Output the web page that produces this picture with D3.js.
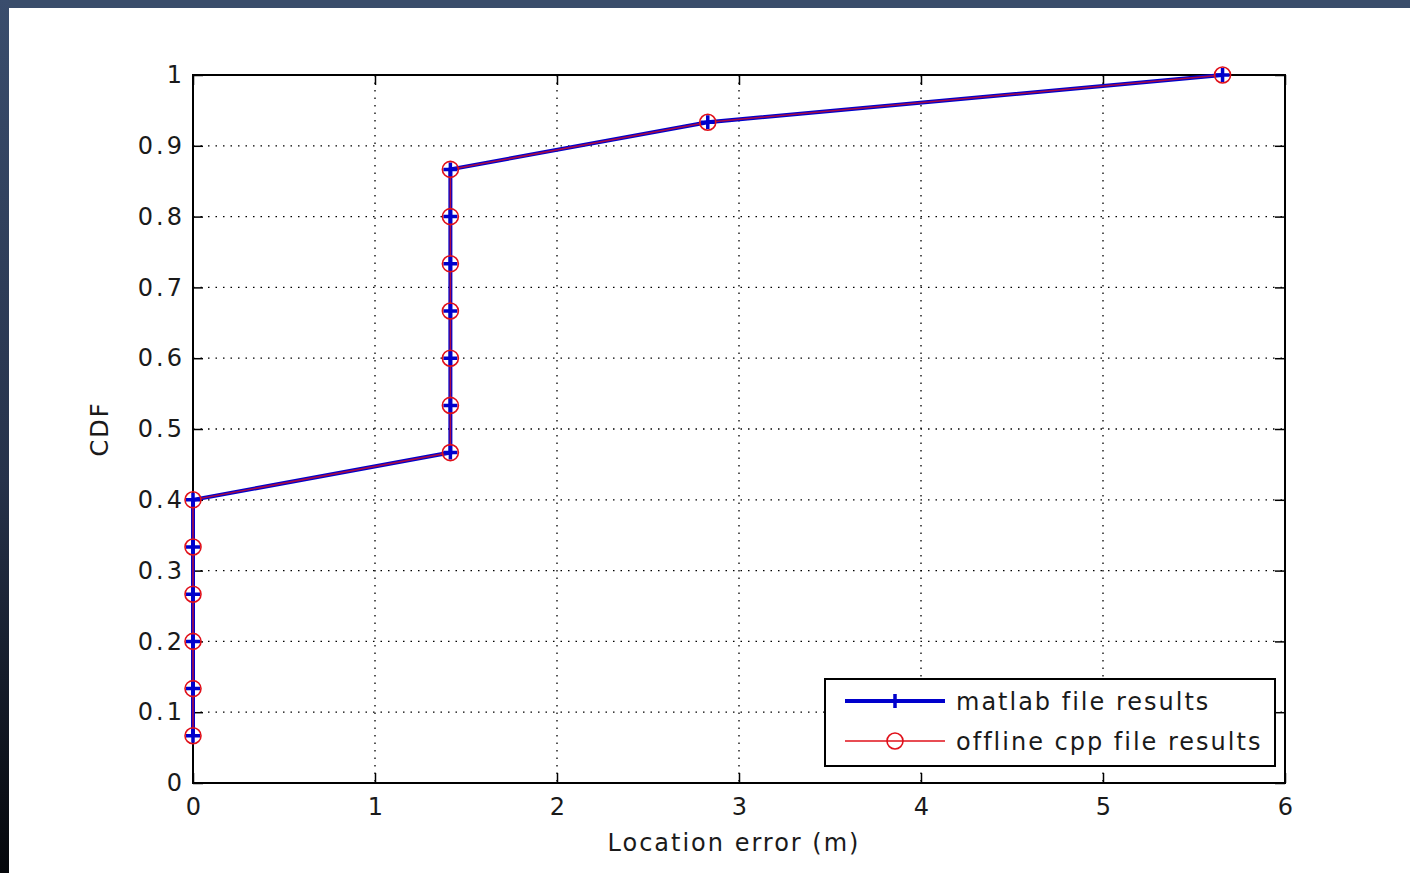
<!DOCTYPE html>
<html><head><meta charset="utf-8">
<script src="https://cdn.jsdelivr.net/npm/d3@7"></script>
<style>
html,body{margin:0;padding:0;background:#fff;}
svg{display:block;}
text{font-family:"DejaVu Sans",Verdana,sans-serif;fill:#1a1a1a;}
</style></head>
<body>
<svg id="c" width="1410" height="873"></svg>
<script>
// Data
const errMatlab = [0,0,0,0,0,0,1.4142,1.4142,1.4142,1.4142,1.4142,1.4142,1.4142,2.8284,5.6569];
const cdfMatlab = [0.0667,0.1333,0.2,0.2667,0.3333,0.4,0.4667,0.5333,0.6,0.6667,0.7333,0.8,0.8667,0.9333,1.0];
const errCpp = [0,0,0,0,0,0,1.4142,1.4142,1.4142,1.4142,1.4142,1.4142,1.4142,2.8284,5.6569];
const cdfCpp = [0.0667,0.1333,0.2,0.2667,0.3333,0.4,0.4667,0.5333,0.6,0.6667,0.7333,0.8,0.8667,0.9333,1.0];
const xTicks = [0,1,2,3,4,5,6];
const yTicks = [0,0.1,0.2,0.3,0.4,0.5,0.6,0.7,0.8,0.9,1];
const yTickLabels = ["0","0.1","0.2","0.3","0.4","0.5","0.6","0.7","0.8","0.9","1"];
const seriesNames = ["matlab file results","offline cpp file results"];

const svg = d3.select("#c");
const W=1410,H=873;
const FONT = "DejaVu Sans, Verdana, sans-serif";

// slide-like frame
const defs = svg.append("defs");
const lg = defs.append("linearGradient").attr("id","lg").attr("x1",0).attr("y1",0).attr("x2",0).attr("y2",1);
lg.append("stop").attr("offset","0%").attr("stop-color","#3a4d6d");
lg.append("stop").attr("offset","55%").attr("stop-color","#26324a");
lg.append("stop").attr("offset","100%").attr("stop-color","#05070b");
svg.append("rect").attr("x",0).attr("y",0).attr("width",W).attr("height",H).attr("fill","#fff");
svg.append("rect").attr("x",0).attr("y",0).attr("width",W).attr("height",8).attr("fill","#3a4d6b");
svg.append("rect").attr("x",0).attr("y",0).attr("width",9).attr("height",H).attr("fill","url(#lg)");

const L=193,R=1285,T=75,B=783;
const x = d3.scaleLinear().domain([0,6]).range([L,R]);
const y = d3.scaleLinear().domain([0,1]).range([B,T]);

// grid
const g = svg.append("g");
g.selectAll(".gx").data(xTicks.slice(1,-1)).join("line")
 .attr("x1",d=>x(d)).attr("x2",d=>x(d)).attr("y1",T).attr("y2",B)
 .attr("stroke","#000").attr("stroke-width",1.3).attr("stroke-dasharray","1.5,6");
g.selectAll(".gy").data(yTicks.slice(1,-1)).join("line")
 .attr("y1",d=>y(d)).attr("y2",d=>y(d)).attr("x1",L).attr("x2",R)
 .attr("stroke","#000").attr("stroke-width",1.3).attr("stroke-dasharray","1.5,6");

// axes with inward ticks on all four sides
const tk = 10;
const axB = svg.append("g").attr("transform",`translate(0,${B})`)
 .call(d3.axisBottom(x).tickValues(xTicks).tickSize(-tk).tickPadding(15).tickFormat(d3.format("d")));
const axT = svg.append("g").attr("transform",`translate(0,${T})`)
 .call(d3.axisTop(x).tickValues(xTicks).tickSize(-tk).tickFormat(""));
const axL = svg.append("g").attr("transform",`translate(${L},0)`)
 .call(d3.axisLeft(y).tickValues(yTicks).tickSize(-tk).tickPadding(8).tickFormat((d,i)=>yTickLabels[i]));
const axR = svg.append("g").attr("transform",`translate(${R},0)`)
 .call(d3.axisRight(y).tickValues(yTicks).tickSize(-tk).tickFormat(""));
[axB,axT,axL,axR].forEach(a=>{
  a.select(".domain").remove();
  a.selectAll(".tick line").attr("stroke","#000").attr("stroke-width",1.5);
  a.selectAll("text").attr("font-size",24).attr("fill","#1a1a1a").attr("font-family",FONT).style("letter-spacing","3px");
});
axB.selectAll("text").attr("dx",1.5);
svg.append("rect").attr("x",L).attr("y",T).attr("width",R-L).attr("height",B-T)
 .attr("fill","none").attr("stroke","#000").attr("stroke-width",2);

// axis labels
svg.append("text").attr("x",734).attr("y",851).attr("text-anchor","middle")
 .attr("font-size",24).style("letter-spacing","2px").text("Location error (m)");
svg.append("text").attr("transform",`translate(108,${(T+B)/2}) rotate(-90)`).attr("text-anchor","middle")
 .attr("font-size",24).style("letter-spacing","2px").text("CDF");

// lines
const line = d3.line().x(d=>x(d[0])).y(d=>y(d[1]));
const dM = errMatlab.map((e,i)=>[e,cdfMatlab[i]]);
const dC = errCpp.map((e,i)=>[e,cdfCpp[i]]);
svg.append("path").datum(dM).attr("d",line).attr("fill","none").attr("stroke","#0000cc").attr("stroke-width",4);
svg.append("path").datum(dC).attr("d",line).attr("fill","none").attr("stroke","#e0101a").attr("stroke-width",1.6).attr("opacity",0.75);

// markers
const ms=7;
svg.append("g").selectAll("path").data(dM).join("path")
 .attr("d",d=>`M${x(d[0])-ms},${y(d[1])}H${x(d[0])+ms}M${x(d[0])},${y(d[1])-ms}V${y(d[1])+ms}`)
 .attr("stroke","#0000cc").attr("stroke-width",3.5);
svg.append("g").selectAll("circle").data(dC).join("circle")
 .attr("cx",d=>x(d[0])).attr("cy",d=>y(d[1])).attr("r",8)
 .attr("fill","none").attr("stroke","#e0101a").attr("stroke-width",1.6);

// legend
const lx=825, ly=679, lw=450, lh=87;
svg.append("rect").attr("x",lx).attr("y",ly).attr("width",lw).attr("height",lh)
 .attr("fill","#fff").attr("stroke","#000").attr("stroke-width",2);
const ry=[701,741];
svg.append("line").attr("x1",845).attr("x2",945).attr("y1",ry[0]).attr("y2",ry[0]).attr("stroke","#0000cc").attr("stroke-width",4);
svg.append("path").attr("d",`M${895-ms},${ry[0]}H${895+ms}M895,${ry[0]-ms}V${ry[0]+ms}`).attr("stroke","#0000cc").attr("stroke-width",3.5);
svg.append("line").attr("x1",845).attr("x2",945).attr("y1",ry[1]).attr("y2",ry[1]).attr("stroke","#e0101a").attr("stroke-width",1.6);
svg.append("circle").attr("cx",895).attr("cy",ry[1]).attr("r",8).attr("fill","none").attr("stroke","#e0101a").attr("stroke-width",1.6);
svg.selectAll(".lt").data(seriesNames).join("text")
 .attr("x",956).attr("y",(d,i)=>ry[i]+9).attr("font-size",24).style("letter-spacing","2px").text(d=>d);
</script>
</body></html>
